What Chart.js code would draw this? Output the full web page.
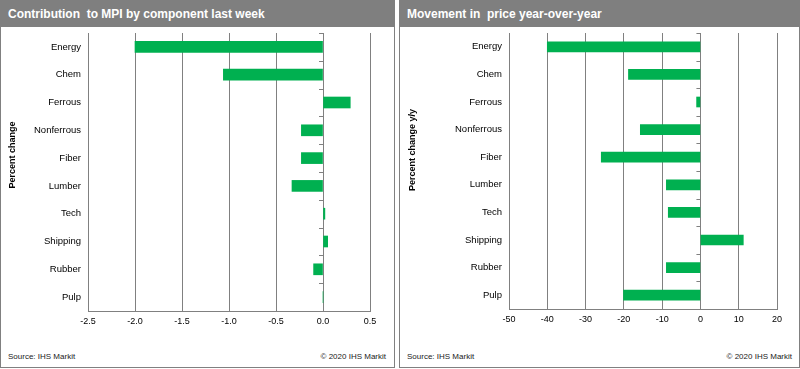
<!DOCTYPE html>
<html>
<head>
<meta charset="utf-8">
<script src="https://cdn.jsdelivr.net/npm/chart.js@4.4.1/dist/chart.umd.min.js"></script>
<style>
  html, body { margin: 0; padding: 0; background: #fff; }
  body { width: 800px; height: 369px; position: relative; overflow: hidden; font-family: "Liberation Sans", Arial, sans-serif; }
  .panel { position: absolute; top: 0; height: 368px; border: 1px solid #808080; box-sizing: border-box; background: #fff; }
  .head { position: absolute; left: -1px; right: -1px; top: -1px; height: 27px; background: #7f7f7f; color: #fff; font-weight: bold; font-size: 12px; line-height: 29px; padding-left: 8px; box-sizing: border-box; white-space: pre; }
  .panel canvas { position: absolute; left: 0; top: 26px; }
  .foot { position: absolute; top: 352px; font-size: 8px; color: #222; }
</style>
</head>
<body>
<div class="panel" id="p1" style="left:0; width:395px;">
  <div class="head">Contribution  to MPI by component last week</div>
  <canvas id="c1" width="393" height="318"></canvas>
</div>
<div class="foot" style="left:8px;">Source:  IHS Markit</div>
<div class="foot" style="left:320px; width:66px; text-align:right;">© 2020  IHS Markit</div>

<div class="panel" id="p2" style="left:399px; width:401px;">
  <div class="head">Movement in  price year-over-year</div>
  <canvas id="c2" width="399" height="318"></canvas>
</div>
<div class="foot" style="left:407px;">Source:  IHS Markit</div>
<div class="foot" style="left:726px; width:66px; text-align:right;">© 2020  IHS Markit</div>

<script>
// data
const components = ['Energy', 'Chem', 'Ferrous', 'Nonferrous', 'Fiber', 'Lumber', 'Tech', 'Shipping', 'Rubber', 'Pulp'];
const contribLastWeek = [-2.0, -1.06, 0.29, -0.23, -0.23, -0.33, 0.02, 0.05, -0.10, 0.0];
const priceYoY = [-40.0, -18.8, -1.0, -15.7, -25.9, -8.9, -8.4, 11.2, -8.9, -20.1];
const contribTicks = [-2.5, 0.5, 0.5];   // min, max, step
const yoyTicks = [-50, 20, 10];

const GREEN = '#00b050';
const GREY = '#808080';
const FONT = "'Liberation Sans', Arial, sans-serif";

// little tick marks on the zero line between categories, plus the rotated axis title
const zeroTicks = {
  id: 'zeroTicks',
  afterDraw(chart, args, opts) {
    const { ctx, chartArea } = chart;
    const x0 = chart.scales.x.getPixelForValue(0);
    const n = chart.data.labels.length;
    const step = (chartArea.bottom - chartArea.top) / n;
    ctx.save();
    ctx.strokeStyle = GREY;
    ctx.lineWidth = 1;
    ctx.beginPath();
    for (let i = 0; i <= n; i++) {
      const y = Math.round(chartArea.top + i * step) + 0.5;
      ctx.moveTo(x0 - 4, y);
      ctx.lineTo(x0, y);
    }
    ctx.stroke();
    // axis title
    ctx.translate(opts.titleX, (chartArea.top + chartArea.bottom) / 2 + opts.titleDy);
    ctx.rotate(-Math.PI / 2);
    ctx.fillStyle = '#000';
    ctx.font = 'bold 9px ' + FONT;
    ctx.textAlign = 'center';
    ctx.textBaseline = 'middle';
    ctx.fillText(opts.title, 0, 0);
    ctx.restore();
  }
};

function makeChart(id, values, ticks, yWidth, rightPad, bottomPad, decimals, title, titleX, titleDy, thickness) {
  return new Chart(document.getElementById(id), {
    type: 'bar',
    data: {
      labels: components,
      datasets: [{
        data: values,
        backgroundColor: GREEN,
        borderWidth: 0,
        barThickness: thickness
      }]
    },
    plugins: [zeroTicks],
    options: {
      indexAxis: 'y',
      responsive: false,
      animation: false,
      devicePixelRatio: 1,
      layout: { padding: { top: 6, right: rightPad, left: 0, bottom: bottomPad } },
      plugins: {
        legend: { display: false },
        tooltip: { enabled: false },
        zeroTicks: { title: title, titleX: titleX, titleDy: titleDy }
      },
      scales: {
        x: {
          type: 'linear',
          min: ticks[0],
          max: ticks[1],
          afterFit: s => { s.height = 20; },
          ticks: {
            stepSize: ticks[2],
            color: '#000',
            padding: 5,
            maxRotation: 0,
            font: { family: FONT, size: 9 },
            callback: v => Number(v).toFixed(decimals)
          },
          grid: { color: GREY, lineWidth: 1, drawTicks: false },
          border: { display: true, color: GREY, width: 1 }
        },
        y: {
          type: 'category',
          afterFit: s => { s.width = yWidth; s.paddingTop = 0; s.paddingBottom = 0; },
          ticks: {
            color: '#000',
            padding: 7,
            font: { family: FONT, size: 9.5 }
          },
          grid: { display: false, drawTicks: false },
          border: { display: false }
        }
      }
    }
  });
}

makeChart('c1', contribLastWeek, contribTicks, 87, 24, 14, 1, 'Percent change', 12, -17, 11);
makeChart('c2', priceYoY, yoyTicks, 109, 22, 16, 0, 'Percent change y/y', 13, -21, 10);
</script>
</body>
</html>
